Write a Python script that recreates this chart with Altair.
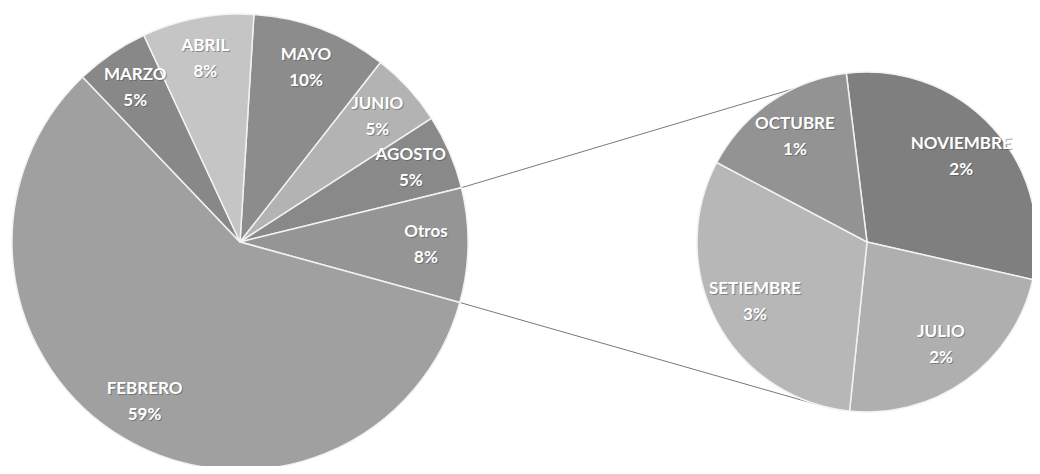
import math
import altair as alt
import pandas as pd

# ---- data ----
main_names = ["MAYO", "JUNIO", "AGOSTO", "Otros", "FEBRERO", "MARZO", "ABRIL"]
main_values = [9.6, 5.3, 5.3, 8.1, 58.6, 5.2, 7.9]
main_colors = ["#8c8c8c", "#b3b3b3", "#898989", "#959595", "#a0a0a0", "#888888", "#c5c5c5"]

sub_names = ["NOVIEMBRE", "JULIO", "SETIEMBRE", "OCTUBRE"]
sub_values = [2.47, 1.87, 2.52, 1.24]
sub_colors = ["#7f7f7f", "#afafaf", "#b7b7b7", "#939393"]

# ---- layout ----
W, H = 1024, 458
CX1, CY1, R1 = 232, 234, 228
CX2, CY2, R2 = 859, 234, 170
START1 = math.radians(3.5)
START2 = math.radians(-7.0)
LINK_UP, LINK_DOWN = math.radians(-7.5), math.radians(196)
FONT = "Lato"
FS, LH = 17, 26


def labels(names, values):
    return [f"{n}\n{int(v + 0.5)}%" for n, v in zip(names, values)]


df1 = pd.DataFrame({"mes": main_names, "valor": main_values,
                    "orden": list(range(len(main_names))),
                    "etiqueta": labels(main_names, main_values)})
df2 = pd.DataFrame({"mes": sub_names, "valor": sub_values,
                    "orden": list(range(len(sub_names))),
                    "etiqueta": labels(sub_names, sub_values)})

# connector lines from the "Otros" slice edges to the secondary pie
total = sum(main_values)
i_otros = main_names.index("Otros")
before = sum(main_values[:i_otros])
a = START1 + 2 * math.pi * before / total
b = a + 2 * math.pi * main_values[i_otros] / total
links = pd.DataFrame({
    "x": [CX1 + R1 * math.sin(a), CX1 + R1 * math.sin(b)],
    "y": [CY1 - R1 * math.cos(a), CY1 - R1 * math.cos(b)],
    "x2": [CX2 + R2 * math.sin(LINK_UP), CX2 + R2 * math.sin(LINK_DOWN)],
    "y2": [CY2 - R2 * math.cos(LINK_UP), CY2 - R2 * math.cos(LINK_DOWN)],
})


def pie(df, names, colors, cx, cy, r, start, label_r):
    theta = alt.Theta("valor:Q", stack=True,
                      scale=alt.Scale(range=[start, start + 2 * math.pi]))
    order = alt.Order("orden:Q")
    base = alt.Chart(df)
    arcs = base.mark_arc(x=cx, y=cy, outerRadius=r, stroke="#f2f2f2",
                         strokeWidth=1.5).encode(
        theta=theta, order=order,
        color=alt.Color("mes:N", scale=alt.Scale(domain=names, range=colors),
                        legend=None),
    )
    shadow = base.mark_text(x=cx, y=cy, radius=label_r, dx=1, dy=1 - LH / 2,
                            font=FONT, fontSize=FS, fontWeight="bold",
                            lineBreak="\n", lineHeight=LH, fill="#444444",
                            opacity=0.45, align="center",
                            baseline="middle").encode(
        theta=theta, order=order, text="etiqueta:N")
    text = base.mark_text(x=cx, y=cy, radius=label_r, dy=-LH / 2, font=FONT,
                          fontSize=FS, fontWeight="bold", lineBreak="\n",
                          lineHeight=LH, fill="white", align="center",
                          baseline="middle").encode(
        theta=theta, order=order, text="etiqueta:N")
    return alt.layer(arcs, shadow, text)


rules = alt.Chart(links).mark_rule(color="#7a7a7a", strokeWidth=1).encode(
    x=alt.X("x:Q", scale=None, axis=None),
    y=alt.Y("y:Q", scale=None, axis=None),
    x2="x2:Q", y2="y2:Q",
)

pie1 = pie(df1, main_names, main_colors, CX1, CY1, R1, START1, 186)
pie2 = pie(df2, sub_names, sub_colors, CX2, CY2, R2, START2, 127)

chart = alt.layer(rules, pie1, pie2).resolve_scale(
    theta="independent", color="independent"
).properties(
    width=W, height=H, padding=0, autosize=alt.AutoSizeParams(type="none"),
    background="white",
).configure_view(stroke=None)

chart.save("out.html", embed_options={"renderer": "svg", "actions": False})
